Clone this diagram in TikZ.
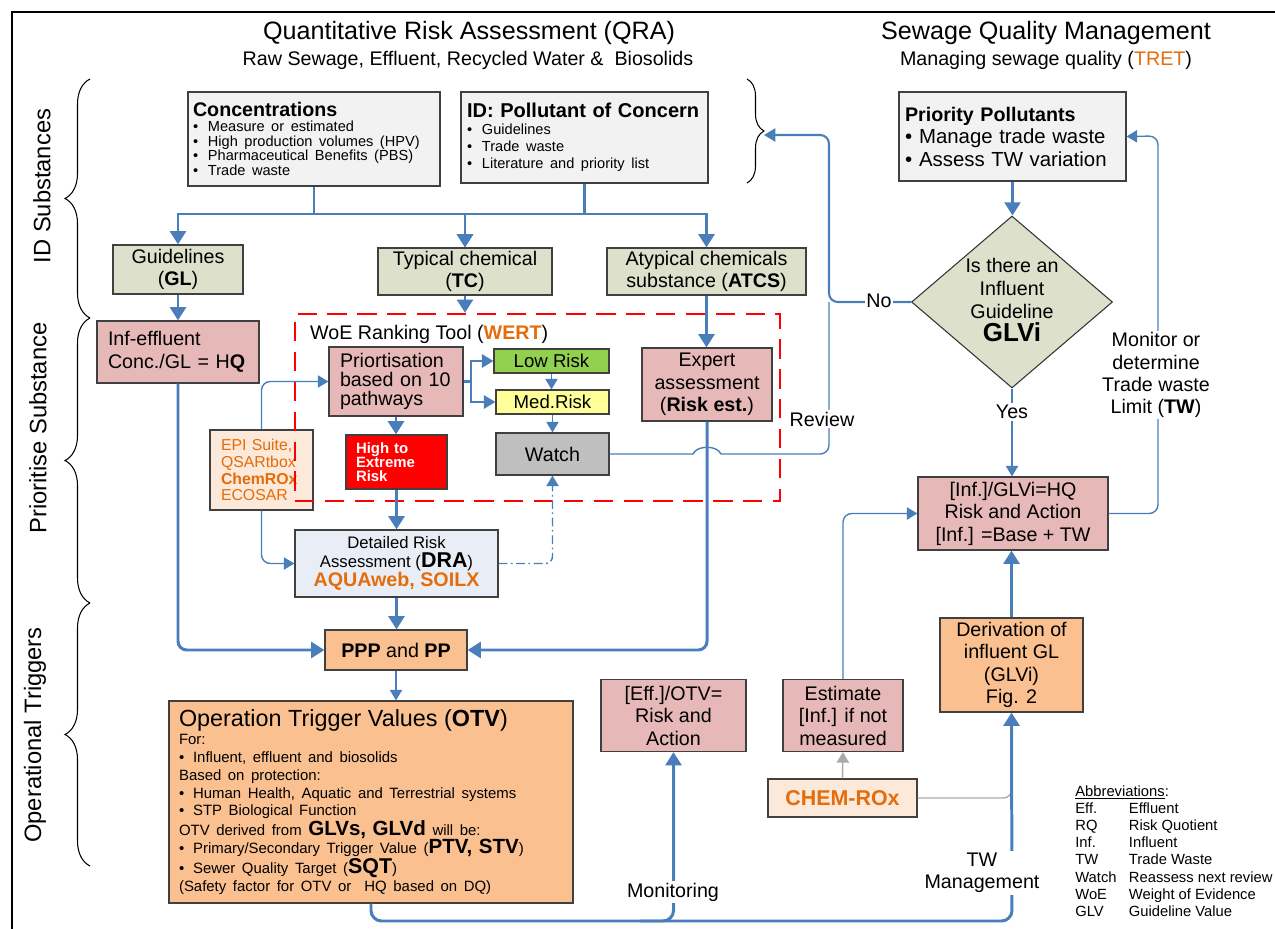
\documentclass[tikz,border=0pt]{standalone}
\usepackage{fontspec}
\setmainfont{Liberation Sans}
\usetikzlibrary{shapes.geometric,arrows.meta,decorations.pathreplacing}
\definecolor{lineblue}{RGB}{74,126,187}
\definecolor{boxgray}{RGB}{242,242,242}
\definecolor{glgreen}{RGB}{221,224,203}
\definecolor{rosebox}{RGB}{230,185,184}
\definecolor{peach}{RGB}{250,192,144}
\definecolor{lightpeach}{RGB}{253,233,217}
\definecolor{drablue}{RGB}{233,238,246}
\definecolor{orng}{RGB}{228,108,10}
\definecolor{lowgreen}{RGB}{146,208,80}
\definecolor{medyellow}{RGB}{255,255,153}
\definecolor{watchgray}{RGB}{191,191,191}
\definecolor{linegray}{RGB}{170,170,170}
\newcommand{\bitem}[2][8.5pt]{\makebox[#1][l]{\textbullet}#2}
\newcommand{\fsz}[2]{\fontsize{#1}{#2}\selectfont}
\tikzstyle{box}=[draw=black!75, line width=0.7pt, inner sep=1pt, align=center, font=\fsz{11.2}{12.8}]
\tikzstyle{lbox}=[box, align=left, inner xsep=0.22cm]
\tikzstyle{flow}=[draw=lineblue, line width=1.7pt, -{Triangle[width=9pt,length=7.5pt]}]
\tikzstyle{midflow}=[draw=lineblue, line width=1.2pt, -{Triangle[width=7.5pt,length=6.5pt]}]
\tikzstyle{thinflow}=[draw=lineblue, line width=0.8pt, -{Triangle[width=7pt,length=6pt]}]
\tikzstyle{wire}=[draw=lineblue, line width=0.8pt]
\tikzstyle{lbl}=[fill=white, inner sep=1pt, align=center, font=\fsz{11.2}{12.6}]
\tikzstyle{sidebrace}=[decorate, decoration={brace, amplitude=0.5cm}, line width=0.6pt]
\tikzstyle{smallbrace}=[decorate, decoration={brace, amplitude=0.34cm}, line width=0.6pt]

\begin{document}
\begin{tikzpicture}[x=0.02cm, y=-0.02cm]
\useasboundingbox (0, 0) rectangle (1275, 929);
\draw[line width=1.1pt] (12, 929) -- (12, 12) -- (1275, 12);

\node[font=\fsz{14.3}{16}] at (469, 33) (qra) {Quantitative Risk Assessment (QRA)};
\node[font=\fsz{11.2}{12}] at (468, 60) (qrasub) {Raw Sewage, Effluent, Recycled Water \&\ \ Biosolids};
\node[font=\fsz{14.3}{16}] at (1046, 33) (sqm) {Sewage Quality Management};
\node[font=\fsz{11.2}{12}] at (1046, 60) (sqmsub) {Managing sewage quality ({\color{orng}TRET})};

\node[rotate=90, font=\fsz{13.5}{15}] at (42, 186) (idsub) {ID Substances};
\node[rotate=90, font=\fsz{13.5}{15}] at (38, 428) (prisub) {Prioritise Substance};
\node[rotate=90, font=\fsz{13.5}{15}] at (35, 735) (optrig) {Operational Triggers};
\draw[sidebrace] (90, 318) -- (90, 79);
\draw[sidebrace] (90, 603) -- (90, 318);
\draw[sidebrace] (90, 866) -- (90, 603);
\draw[smallbrace] (747, 79) -- (747, 183);
\coordinate (bracetip) at (764, 135);

\node[lbox, fill=boxgray, minimum width=5.04cm, minimum height=1.88cm, inner xsep=0.1cm, text width=4.84cm] at (314, 139) (conc)
 {{\fsz{11.2}{12}\bfseries Concentrations\par}{\fsz{8.3}{8.4}\bitem{Measure or estimated}\\\bitem{High production volumes (HPV)}\\\bitem{Pharmaceutical Benefits (PBS)}\\\bitem{Trade waste}\par}};
\node[lbox, fill=boxgray, minimum width=4.94cm, minimum height=1.82cm, inner xsep=0.12cm, text width=4.7cm] at (584.5, 137.5) (idpoc)
 {{\fsz{11.4}{13}\bfseries\mbox{ID: Pollutant of Concern}\par}{\fsz{8.3}{9.6}\bitem{Guidelines}\\\bitem{Trade waste}\\\bitem{Literature and priority list}\par}};
\node[lbox, fill=boxgray, minimum width=4.54cm, minimum height=1.78cm, inner xsep=0.12cm, text width=4.3cm] at (1012.5, 136.5) (prio)
 {{\fsz{11.2}{12.6}\bfseries Priority Pollutants\par}{\fsz{11.6}{12.8}\bitem[8pt]{Manage trade waste}\\\bitem[8pt]{Assess TW variation}\par}};

\node[box, fill=glgreen, minimum width=2.6cm, minimum height=0.98cm] at (178, 269.5) (gl) {Guidelines\\(\textbf{GL})};
\node[box, fill=glgreen, minimum width=3.48cm, minimum height=0.94cm] at (465, 271.5) (tc) {Typical chemical\\(\textbf{TC})};
\node[box, fill=glgreen, minimum width=3.98cm, minimum height=0.94cm] at (706.5, 271.5) (atcs) {Atypical chemicals\\substance (\textbf{ATCS})};
\node[diamond, draw=black!80, line width=0.6pt, fill=glgreen, minimum width=4.02cm, minimum height=3.44cm, inner sep=0pt] at (1012, 302) (dia) {};
\node[align=center, font=\fsz{11.2}{13}] at (1012, 300) (diatext) {Is there an\\Influent\\Guideline\\{\fsz{14.8}{13}\bfseries GLVi}};

\node[lbox, fill=rosebox, minimum width=3.24cm, minimum height=1.24cm, text width=2.8cm] at (178, 352) (infeff) {Inf-effluent\\Conc./GL = H\textbf{Q}};
\node[lbox, fill=lightpeach, text=orng, font=\fsz{9}{9.6}, minimum width=2.06cm, minimum height=1.6cm, text width=1.62cm] at (261.5, 470) (epi) {EPI Suite,\\QSARtbox\\\textbf{ChemROx}\\ECOSAR};
\node[lbox, fill=rosebox, font=\fsz{11.2}{11}, minimum width=2.68cm, minimum height=1.38cm, text width=2.24cm] at (396, 381.5) (prt) {Priortisation\\based on 10\\pathways};
\node[box, fill=lowgreen, font=\fsz{10.6}{12}, minimum width=2.3cm, minimum height=0.48cm] at (551.5, 361) (low) {Low Risk};
\node[box, fill=medyellow, font=\fsz{10.6}{12}, minimum width=2.26cm, minimum height=0.48cm] at (552.5, 402) (med) {Med.Risk};
\node[box, fill=watchgray, minimum width=2.26cm, minimum height=0.84cm] at (552.5, 454) (watch) {Watch};
\node[lbox, fill=red, text=white, font=\fsz{8.5}{8}\bfseries, minimum width=2.02cm, minimum height=1.08cm, inner xsep=0.2cm, text width=1.62cm] at (396.5, 462) (high) {High to\\Extreme\\Risk};
\node[box, fill=rosebox, minimum width=2.6cm, minimum height=1.46cm] at (707, 384.5) (expert) {Expert\\assessment\\(\textbf{Risk est.})};
\node[draw=red, line width=1.4pt, dash pattern=on 11pt off 6pt, minimum width=9.7cm, minimum height=3.74cm] at (537.5, 407.5) (wert) {};
\node[anchor=west, font=\fsz{11.2}{12}] at (304, 334) (wertlabel) {WoE Ranking Tool (\textbf{\color{orng}WERT})};

\node[box, fill=drablue, font=\fsz{9.5}{11}, minimum width=4.06cm, minimum height=1.34cm] at (396.5, 563.5) (dra)
 {Detailed Risk\\Assessment ({\fsz{12.2}{11}\bfseries DRA})\\{\fsz{11.2}{11}\bfseries\color{orng}AQUAweb, SOILX}};
\node[box, fill=peach, minimum width=2.84cm, minimum height=0.8cm] at (396, 650) (ppp) {\textbf{PPP} and \textbf{PP}};
\node[lbox, fill=peach, minimum width=8.08cm, minimum height=4.04cm, inner xsep=0.2cm, text width=7.68cm] at (371, 802) (otv)
 {{\fsz{13.3}{14.5}Operation Trigger Values (\textbf{OTV})\par}{\fsz{8.5}{10.2}For:\\\bitem[8pt]{Influent, effluent and biosolids}\\Based on protection:\\\bitem[8pt]{Human Health, Aquatic and Terrestrial systems}\\\bitem[8pt]{STP Biological Function}\\OTV derived from {\fsz{11.7}{10}\bfseries GLVs, GLVd} will be:\\\bitem[8pt]{Primary/Secondary Trigger Value ({\fsz{11.7}{10}\bfseries PTV, STV})}\\\bitem[8pt]{Sewer Quality Target ({\fsz{12.2}{10}\bfseries SQT})}\\(Safety factor for OTV or\ \ HQ based on DQ)\par}};

\node[box, fill=rosebox, minimum width=2.9cm, minimum height=1.44cm] at (673.5, 715.5) (effotv) {{[Eff.]/OTV=}\\Risk and\\Action};
\node[box, fill=rosebox, minimum width=2.4cm, minimum height=1.44cm] at (843, 715.5) (est) {Estimate\\{[Inf.]} if not\\measured};
\node[box, fill=lightpeach, minimum width=2.98cm, minimum height=0.76cm] at (842.5, 798) (chem) {{\fsz{12.2}{12}\bfseries\color{orng}CHEM-ROx}};
\node[box, fill=peach, minimum width=2.86cm, minimum height=1.88cm] at (1011.5, 665) (deriv) {Derivation of\\influent GL\\(GLVi)\\Fig. 2};
\node[box, fill=rosebox, minimum width=3.8cm, minimum height=1.46cm] at (1013, 513.5) (infglv) {{[Inf.]/GLVi=HQ}\\Risk and Action\\{[Inf.]} =Base + TW};

\coordinate (busa) at (314, 214);
\coordinate (busb) at (584.5, 214);
\draw[flow] (conc.south) -- (busa) -| (gl.north);
\draw[flow] (busa) -| (tc.north);
\draw[flow] (idpoc.south) -- (busb) -| (atcs.north);
\draw[flow] (busb) -| (tc.north);
\draw[flow] (gl) -- (infeff);
\draw[flow] (tc.south) -- (tc.south |- wert.north);
\draw[flow] (atcs.south) -- (atcs.south |- expert.north);
\draw[flow, rounded corners=5pt] (infeff.south) |- (ppp.west);
\draw[flow, rounded corners=5pt] (expert.south) |- (ppp.east);
\draw[flow] (prt.south) -- (prt.south |- high.north);
\draw[flow] (high.south) -- (high.south |- dra.north);
\draw[flow] (dra.south) -- (dra.south |- ppp.north);
\draw[thinflow] (ppp.south) -- (ppp.south |- otv.north);
\coordinate (split) at (471, 381.5);
\draw[midflow] (prt.east) -- (split) |- (low.west);
\draw[midflow] (split) |- (med.west);
\draw[thinflow] (low.south) -- (low.south |- med.north);
\draw[thinflow] (med.south) -- (med.south |- watch.north);
\draw[thinflow, rounded corners=5pt] (epi.north) |- (prt.west);
\draw[thinflow, rounded corners=5pt] (epi.south) |- (dra.west);
\draw[thinflow, dash pattern=on 5pt off 2pt on 1pt off 2pt, rounded corners=4pt] (dra.east) -| (watch.south);

\coordinate (nojoin) at (829, 302);
\coordinate (nocorner) at (829, 135);
\draw[wire] (watch.east) -- (693, 454) .. controls (697, 445) and (717, 445) .. (721, 454) [rounded corners=5pt] -| (nojoin);
\draw[midflow, rounded corners=5pt] (dia.west) -| (nocorner) -- (bracetip);
\node[lbl] at (822, 419) (review) {Review};
\node[lbl] at (879, 301) (no) {No};

\draw[flow] (prio.south) -- (prio.south |- dia.north);
\draw[thinflow] (dia.south) -- (dia.south |- infglv.north);
\node[lbl] at (1012, 412) (yes) {Yes};
\coordinate (mon) at (1158, 136);
\draw[thinflow, rounded corners=5pt] (infglv.east) -| (mon) -- (prio.east);
\node[lbl] at (1156, 375) (monitor) {Monitor or\\determine\\Trade waste\\Limit (\textbf{TW})};
\draw[thinflow, rounded corners=5pt] (est.north) |- (infglv.west);
\draw[draw=linegray, line width=0.8pt, -{Triangle[width=7pt,length=6pt]}] (chem.north) -- (est.south);
\draw[draw=linegray, line width=0.8pt, rounded corners=5pt] (chem.east) -| (1012, 775);
\draw[flow] (deriv.north) -- (deriv.north |- infglv.south);

\coordinate (busr) at (1012, 921);
\coordinate (busm) at (640, 921);
\draw[flow, rounded corners=6pt] (otv.south) |- (busr) -- (deriv.south);
\draw[flow, rounded corners=6pt] (busm) -| (effotv.south);
\node[lbl] at (673, 892) (monit) {Monitoring};
\node[lbl] at (982, 873) (twman) {TW\\Management};

\node[anchor=north west, align=left, font=\fsz{8.4}{9.8}, inner sep=0pt] at (1075, 785) (abbr)
 {\underline{Abbreviations}:\\\makebox[30.5pt][l]{Eff.}Effluent\\\makebox[30.5pt][l]{RQ}Risk Quotient\\\makebox[30.5pt][l]{Inf.}Influent\\\makebox[30.5pt][l]{TW}Trade Waste\\\makebox[30.5pt][l]{Watch}Reassess next review\\\makebox[30.5pt][l]{WoE}Weight of Evidence\\\makebox[30.5pt][l]{GLV}Guideline Value};
\end{tikzpicture}
\end{document}
